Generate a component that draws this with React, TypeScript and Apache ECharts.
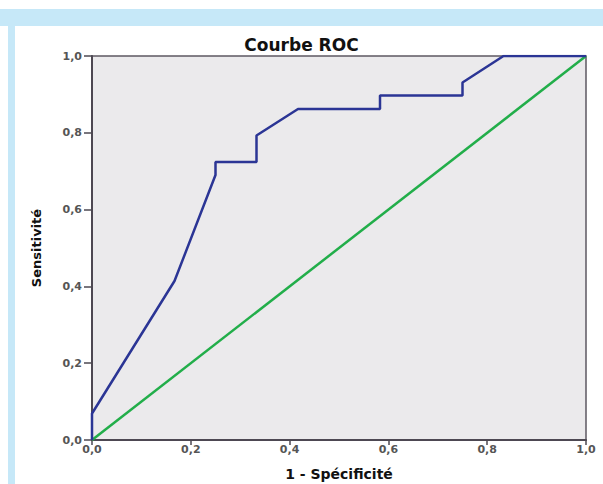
import React, { useEffect, useRef } from "react";
import * as echarts from "echarts";

const fpr = [0, 0, 0.167, 0.25, 0.25, 0.333, 0.333, 0.417, 0.583, 0.583, 0.75, 0.75, 0.833, 1];
const tpr = [0, 0.069, 0.414, 0.69, 0.724, 0.724, 0.793, 0.862, 0.862, 0.897, 0.897, 0.931, 1, 1];
const refX = [0, 1];
const refY = [0, 1];
const titleText = "Courbe ROC";
const xName = "1 - Spécificité";
const yName = "Sensitivité";

const fmt = (v: number) => v.toFixed(1).replace(".", ",");

export default function App() {
  const ref = useRef<HTMLDivElement>(null);
  useEffect(() => {
    if (!ref.current) return;
    document.body.style.margin = "0";
    document.body.style.overflow = "hidden";
    const chart = echarts.init(ref.current, null, { renderer: "svg" });
    const font = "DejaVu Sans";
    const axisCommon = {
      type: "value" as const,
      min: 0,
      max: 1,
      interval: 0.2,
      nameLocation: "middle" as const,
      nameTextStyle: { fontFamily: font, fontWeight: "bold", color: "#111" },
      axisLine: { show: true, lineStyle: { color: "#4d4852", width: 2 } },
      axisTick: { show: true, inside: false, lineStyle: { color: "#4d4852", width: 1.5 } },
      axisLabel: {
        formatter: fmt,
        fontFamily: font,
        fontWeight: "bold",
        fontSize: 11,
        color: "#555",
      },
      splitLine: { show: false },
    };
    chart.setOption({
      animation: false,
      backgroundColor: "#ffffff",
      title: {
        text: titleText,
        left: "center",
        top: 31,
        textStyle: { fontFamily: font, fontWeight: "bold", fontSize: 17, color: "#111" },
      },
      graphic: [
        { type: "rect", z: -10, shape: { x: 0, y: 9, width: 603, height: 17 }, style: { fill: "#c6e8f8" } },
        { type: "rect", z: -10, shape: { x: 8, y: 26, width: 7, height: 458 }, style: { fill: "#c6e8f8" } },
      ],
      grid: {
        left: 92,
        right: 17,
        top: 56,
        bottom: 44,
        containLabel: false,
        outerBoundsMode: "none",
        show: true,
        backgroundColor: "#ebeaec",
        borderColor: "#5d5862",
        borderWidth: 1.5,
      },
      xAxis: {
        ...axisCommon,
        name: xName,
        nameGap: 27,
        nameTextStyle: { ...axisCommon.nameTextStyle, fontSize: 14 },
        axisTick: { ...axisCommon.axisTick, length: 5 },
        axisLabel: { ...axisCommon.axisLabel, margin: 4 },
      },
      yAxis: {
        ...axisCommon,
        name: yName,
        nameGap: 49,
        nameRotate: 90,
        nameTextStyle: { ...axisCommon.nameTextStyle, fontSize: 13 },
        axisTick: { ...axisCommon.axisTick, length: 8 },
        axisLabel: { ...axisCommon.axisLabel, margin: 10 },
      },
      series: [
        {
          type: "line",
          data: refX.map((x, i) => [x, refY[i]]),
          showSymbol: false,
          lineStyle: { color: "#22ae4a", width: 2.5 },
          z: 2,
        },
        {
          type: "line",
          data: fpr.map((x, i) => [x, tpr[i]]),
          showSymbol: false,
          lineStyle: { color: "#2b3595", width: 2.5 },
          z: 3,
        },
      ],
    });
    return () => chart.dispose();
  }, []);
  return (
    <div
      ref={ref}
      style={{ position: "fixed", left: 0, top: 0, width: 603, height: 484 }}
    />
  );
}
